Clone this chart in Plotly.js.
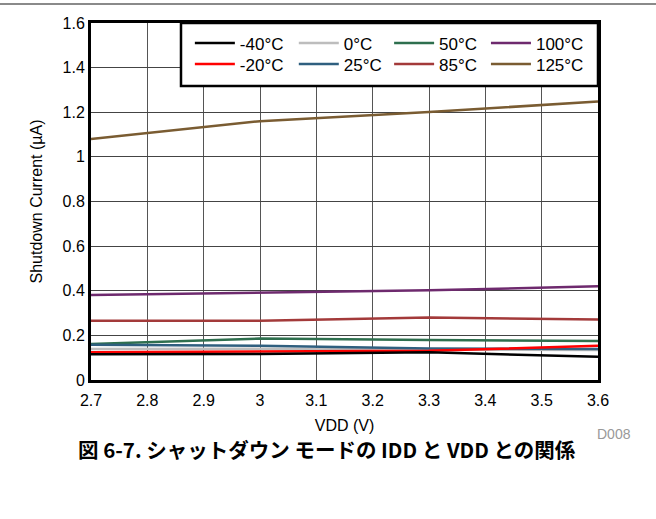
<!DOCTYPE html>
<html>
<head>
<meta charset="utf-8">
<script src="https://cdn.plot.ly/plotly-3.0.1.min.js"></script>
<style>
html,body{margin:0;padding:0;background:#fff;}
#wrap{position:relative;width:656px;height:519px;overflow:hidden;}
#rule{position:absolute;left:0;top:3px;width:656px;height:2px;background:#8a8a8a;}
#chart{position:absolute;left:0;top:0;width:656px;height:519px;}
</style>
</head>
<body>
<div id="wrap">
<div id="chart"></div>
<div id="rule"></div>
</div>
<script>
const vdd = [2.7, 3.0, 3.3, 3.6];
const seriesNames = ['-40°C', '-20°C', '0°C', '25°C', '50°C', '85°C', '100°C', '125°C'];
const tM40 = [0.115, 0.117, 0.124, 0.104];
const tM20 = [0.124, 0.128, 0.131, 0.153];
const t0 = [0.139, 0.140, 0.136, 0.135];
const t25 = [0.158, 0.153, 0.141, 0.139];
const t50 = [0.161, 0.186, 0.179, 0.175];
const t85 = [0.265, 0.265, 0.280, 0.271];
const t100 = [0.381, 0.390, 0.402, 0.420];
const t125 = [1.080, 1.160, 1.201, 1.248];
const seriesValues = [tM40, tM20, t0, t25, t50, t85, t100, t125];
const seriesColors = ['#000000', '#ff0000', '#bdbdbd', '#2f5f7f', '#2e6f4e', '#a33a3a', '#6e2a6e', '#7a5c32'];
const xTickVals = [2.7, 2.8, 2.9, 3.0, 3.1, 3.2, 3.3, 3.4, 3.5, 3.6];
const xTickText = ['2.7', '2.8', '2.9', '3', '3.1', '3.2', '3.3', '3.4', '3.5', '3.6'];
const yTickVals = [0, 0.2, 0.4, 0.6, 0.8, 1.0, 1.2, 1.4, 1.6];
const yTickText = ['0', '0.2', '0.4', '0.6', '0.8', '1', '1.2', '1.4', '1.6'];

// one legend per entry, laid out as 4 columns x 2 rows
const legendIds = ['legend', 'legend2', 'legend3', 'legend4', 'legend5', 'legend6', 'legend7', 'legend8'];
// draw order: gray first so others sit on it
const drawOrder = [2, 4, 3, 1, 0, 5, 6, 7];
const traces = drawOrder.map(i => ({
  x: vdd, y: seriesValues[i], name: seriesNames[i], type: 'scatter', mode: 'lines',
  line: {color: seriesColors[i], width: 2.5}, legend: legendIds[i]
}));

const fam = '"Liberation Sans", Arial, sans-serif';
const font = {family: fam, size: 16, color: '#000'};
const legFont = {family: fam, size: 17, color: '#000'};
function leg(x, y) {
  return {orientation: 'v', x: x, xanchor: 'left', y: y, yanchor: 'top', itemwidth: 40,
    bgcolor: 'rgba(0,0,0,0)', borderwidth: 0, font: legFont, tracegroupgap: 0};
}
const colX = [0.195, 0.400, 0.588, 0.779];
const rowY = [0.993, 0.9345];
const layout = {
  width: 656, height: 519,
  margin: {l: 91, r: 58, t: 23, b: 139},
  paper_bgcolor: '#fff', plot_bgcolor: '#fff',
  font: font,
  showlegend: true,
  legend: leg(colX[0], rowY[0]), legend2: leg(colX[0], rowY[1]),
  legend3: leg(colX[1], rowY[0]), legend4: leg(colX[1], rowY[1]),
  legend5: leg(colX[2], rowY[0]), legend6: leg(colX[2], rowY[1]),
  legend7: leg(colX[3], rowY[0]), legend8: leg(colX[3], rowY[1]),
  shapes: [
    {type: 'rect', xref: 'paper', yref: 'paper', x0: 0.1775, x1: 1, y0: 0.8235, y1: 1,
     line: {color: '#000', width: 2.5}, fillcolor: '#fff', layer: 'above'}
  ],
  xaxis: {
    range: [2.7, 3.6], tickvals: xTickVals, ticktext: xTickText,
    showgrid: true, gridcolor: '#555', gridwidth: 1,
    showline: true, linecolor: '#000', linewidth: 3, mirror: true,
    ticks: '', zeroline: false, ticklabelstandoff: 4,
    title: {text: 'VDD (V)', font: font, standoff: 12},
    tickfont: font
  },
  yaxis: {
    range: [0, 1.6], tickvals: yTickVals, ticktext: yTickText,
    showgrid: true, gridcolor: '#444', gridwidth: 1,
    showline: true, linecolor: '#000', linewidth: 3, mirror: true,
    ticks: '', zeroline: false,
    title: {text: 'Shutdown Current (µA)', font: font, standoff: 16},
    tickfont: font
  },
  annotations: [
    {text: 'D008', xref: 'paper', yref: 'paper', x: 1.07, y: -0.152, xanchor: 'right', yanchor: 'middle',
     showarrow: false, font: {family: fam, size: 14, color: '#999'}},
    {text: '<b>図 6-7. シャットダウン モードの IDD と VDD との関係</b>', xref: 'paper', yref: 'paper',
     x: 0.465, y: -0.1456, xanchor: 'center', yanchor: 'top', showarrow: false,
     font: {family: '"Noto Sans CJK JP", "Liberation Sans", sans-serif', size: 20.5, color: '#000'}}
  ]
};
Plotly.newPlot('chart', traces, layout, {displayModeBar: false, staticPlot: true});
</script>
</body>
</html>
